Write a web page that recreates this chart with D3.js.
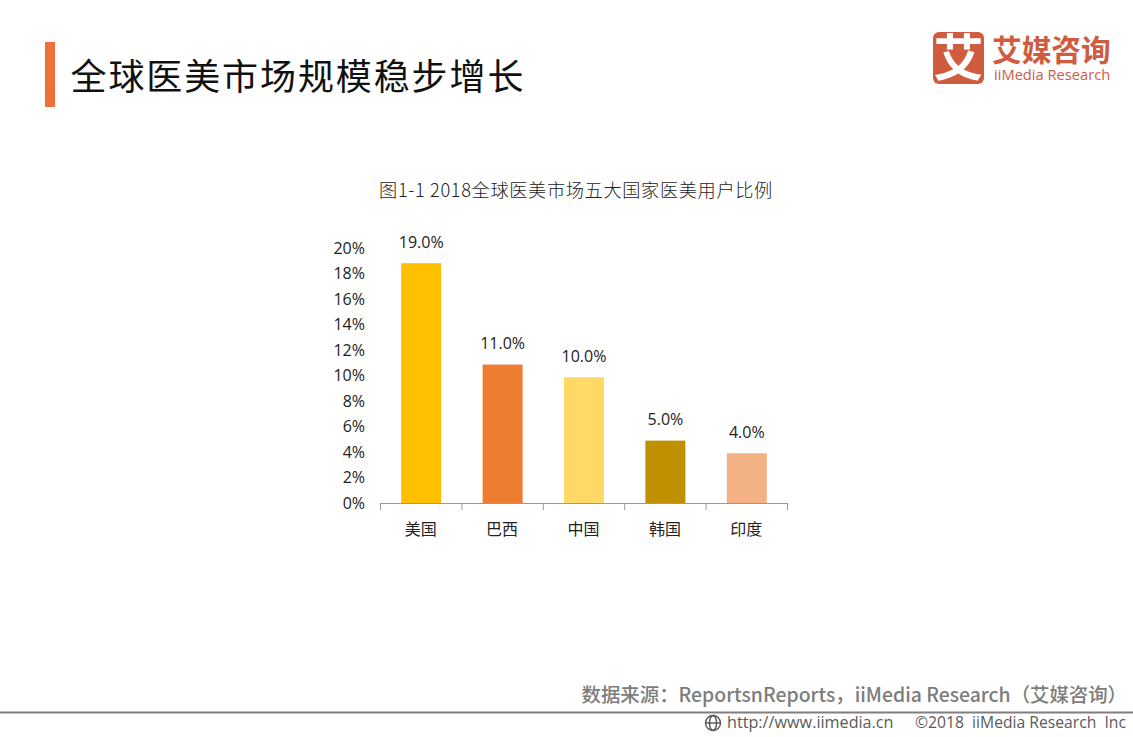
<!DOCTYPE html>
<html>
<head>
<meta charset="utf-8">
<script src="https://cdn.jsdelivr.net/npm/d3@7"></script>
<style>
html, body { margin: 0; padding: 0; background: #fff; }
text { font-family: "Noto Sans CJK SC", sans-serif; }
</style>
</head>
<body>
<div id="chart"></div>
<script>
// data
var categories = ['美国', '巴西', '中国', '韩国', '印度']
var values = [19, 11, 10, 5, 4]
var barColors = ['#ffc000', '#ed7d31', '#ffd966', '#bf9000', '#f4b183']
var yTicks = [0, 2, 4, 6, 8, 10, 12, 14, 16, 18, 20]

var w = 1133, h = 737

var svg = d3.select('#chart').append('svg')
  .attr('width', w)
  .attr('height', h)
  .style('display', 'block')

// header
svg.append('rect').attr('x', 45).attr('y', 42).attr('width', 10).attr('height', 65).attr('fill', '#f0703a')
svg.append('text').attr('x', 70.5).attr('y', 90)
  .attr('font-size', 36).attr('letter-spacing', 1.9).attr('fill', '#111')
  .text('全球医美市场规模稳步增长')

// logo
var logo = svg.append('g').attr('fill', '#cf5c3f')
logo.append('rect').attr('x', 933).attr('y', 32).attr('width', 51).attr('height', 52).attr('rx', 6)
logo.append('text').attr('x', 958.5).attr('y', 76).attr('text-anchor', 'middle')
  .attr('font-size', 50).attr('font-weight', 700).attr('fill', '#fff').text('艾')
logo.append('text').attr('x', 992).attr('y', 61)
  .attr('font-size', 29.7).attr('font-weight', 700).text('艾媒咨询')
logo.append('text').attr('x', 994).attr('y', 80)
  .attr('font-size', 14.7).attr('font-weight', 500).style('font-family', '"Open Sans", sans-serif').text('iiMedia Research')

// chart title
svg.append('text').attr('x', 576).attr('y', 197).attr('text-anchor', 'middle')
  .attr('font-size', 18.2).attr('font-weight', 300).attr('letter-spacing', 0.65).attr('fill', '#222')
  .text('图1-1 2018全球医美市场五大国家医美用户比例')

// scales
var x = d3.scaleBand().domain(categories).range([380, 787])
var y = d3.scaleLinear().domain([0, 20]).range([504, 250.5])
var barWidth = 40

// bars
svg.selectAll('rect.bar')
  .data(values)
  .enter()
  .append('rect')
  .attr('class', 'bar')
  .attr('x', function(d, i) {return x(categories[i]) + (x.bandwidth() - barWidth) / 2 + 0.5})
  .attr('y', function(d) {return y(d)})
  .attr('width', barWidth)
  .attr('height', function(d) {return y(0) - y(d)})
  .attr('fill', function(d, i) {return barColors[i]})

// value labels
svg.selectAll('text.val')
  .data(values)
  .enter()
  .append('text')
  .attr('class', 'val')
  .attr('x', function(d, i) {return x(categories[i]) + x.bandwidth() / 2 + 0.5})
  .attr('y', function(d) {return y(d) - 15 + d * 0.03 - 0.6})
  .attr('text-anchor', 'middle')
  .attr('font-size', 16)
  .attr('fill', '#222')
  .style('font-family', '"Open Sans", sans-serif')
  .text(function(d) {return d.toFixed(1) + '%'})

// y labels, no axis line in the reference
svg.selectAll('text.ytick')
  .data(yTicks)
  .enter()
  .append('text')
  .attr('class', 'ytick')
  .attr('x', 365)
  .attr('y', function(d) {return y(d) + 5 - d * 0.1})
  .attr('text-anchor', 'end')
  .attr('font-size', 16)
  .attr('fill', '#222')
  .style('font-family', '"Open Sans", sans-serif')
  .text(function(d) {return d + '%'})

// x axis with ticks between the bands
var axis = svg.append('g')
axis.append('line').attr('x1', 380).attr('x2', 787).attr('y1', 503.5).attr('y2', 503.5).attr('stroke', '#999')
axis.selectAll('line.tick')
  .data(d3.range(categories.length + 1))
  .enter()
  .append('line')
  .attr('class', 'tick')
  .attr('x1', function(i) {return 380.5 + i * x.step()})
  .attr('x2', function(i) {return 380.5 + i * x.step()})
  .attr('y1', 503).attr('y2', 510)
  .attr('stroke', '#999')
axis.selectAll('text')
  .data(categories)
  .enter()
  .append('text')
  .attr('x', function(d) {return x(d) + x.bandwidth() / 2})
  .attr('y', 535)
  .attr('text-anchor', 'middle')
  .attr('font-size', 16)
  .attr('fill', '#222')
  .text(function(d) {return d})

// footer
svg.append('text').attr('x', 1127).attr('y', 702).attr('text-anchor', 'end')
  .attr('font-size', 19.4).attr('font-weight', 500).attr('fill', '#7c7c7c')
  .text('数据来源：ReportsnReports，iiMedia Research（艾媒咨询）')
svg.append('line').attr('x1', 0).attr('x2', w).attr('y1', 712.5).attr('y2', 712.5)
  .attr('stroke', '#7f7f7f').attr('stroke-width', 2)

var globe = svg.append('g').attr('fill', 'none').attr('stroke', '#555').attr('stroke-width', 1.4)
globe.append('circle').attr('cx', 713).attr('cy', 723).attr('r', 7.5)
globe.append('ellipse').attr('cx', 713).attr('cy', 723).attr('rx', 3.5).attr('ry', 7.5)
globe.append('line').attr('x1', 705.5).attr('x2', 720.5).attr('y1', 723).attr('y2', 723)

svg.append('text').attr('x', 727).attr('y', 728)
  .attr('font-size', 16.2).attr('font-weight', 500).attr('fill', '#5a5a5a')
  .style('font-family', '"Open Sans", sans-serif')
  .text('http://www.iimedia.cn')
svg.append('text').attr('x', 1126).attr('y', 728).attr('text-anchor', 'end')
  .attr('font-size', 15.7).attr('font-weight', 500).attr('fill', '#5a5a5a')
  .style('font-family', '"Open Sans", sans-serif')
  .style('white-space', 'pre')
  .text('©2018  iiMedia Research  Inc')
</script>
</body>
</html>
